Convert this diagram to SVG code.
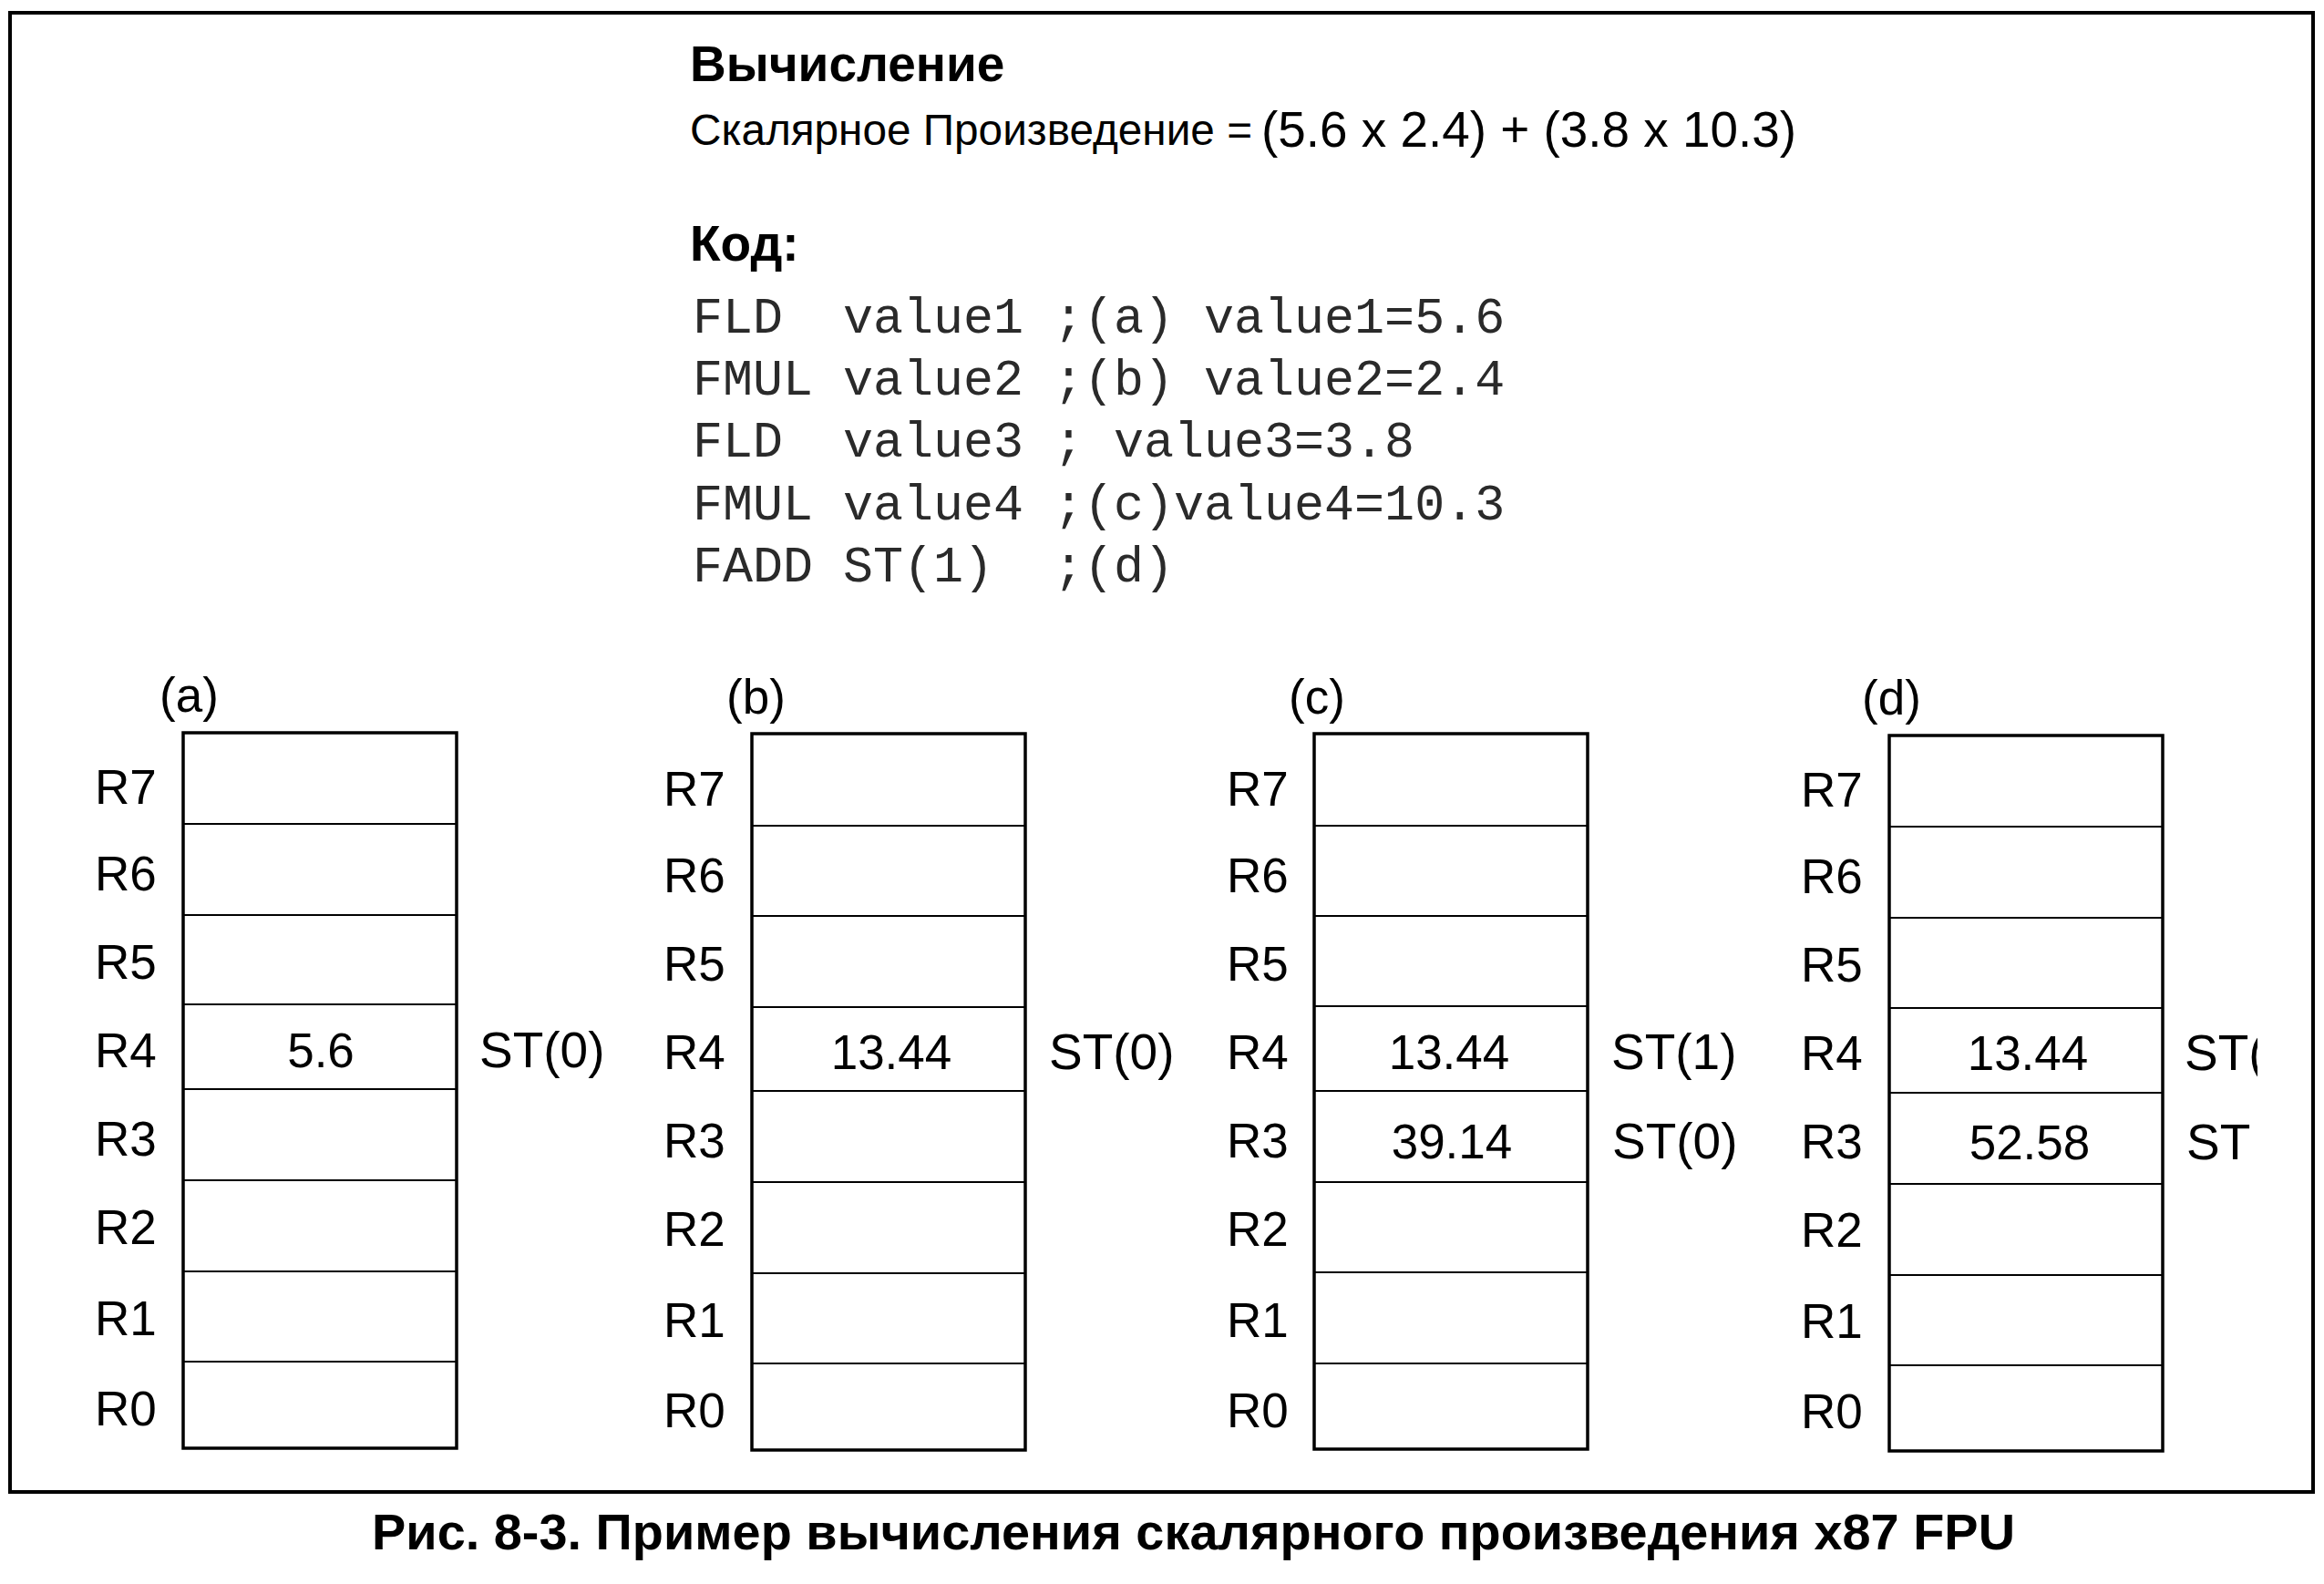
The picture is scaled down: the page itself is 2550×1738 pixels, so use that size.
<svg xmlns="http://www.w3.org/2000/svg" width="2550" height="1738" viewBox="0 0 2550 1738">
<defs>
<style>
.t{font-family:"Liberation Sans",Arial,sans-serif;fill:#000}
.h{font-family:"Liberation Sans",Arial,sans-serif;font-weight:bold;font-size:55px;fill:#000}
.c{font-family:"Liberation Mono","Courier New",monospace;font-size:55px;fill:#2a2a2a;white-space:pre}
.r{font-family:"Liberation Sans",Arial,sans-serif;font-size:53px;fill:#000}
.s{font-family:"Liberation Sans",Arial,sans-serif;font-size:55px;fill:#000}
.v{font-family:"Liberation Sans",Arial,sans-serif;font-size:53px;fill:#000;text-anchor:middle}
.box{fill:none;stroke:#000;stroke-width:3.5}
.row{stroke:#000;stroke-width:2.2}
</style>
<clipPath id="clipd"><rect x="0" y="0" width="2477" height="1738"/></clipPath>
</defs>
<rect x="0" y="0" width="2550" height="1738" fill="#fff"/>
<rect x="11" y="14" width="2527" height="1623" fill="none" stroke="#000" stroke-width="4"/>

<g id="header">
<text class="h" x="757" y="89">Вычисление</text>
<text class="t" x="757" y="159" font-size="48" textLength="617" lengthAdjust="spacingAndGlyphs">Скалярное Произведение =</text>
<text class="t" x="1384" y="161" font-size="55" textLength="587" lengthAdjust="spacingAndGlyphs">(5.6 x 2.4) + (3.8 x 10.3)</text>
<text class="h" x="757" y="286">Код:</text>
</g>

<g id="code">
<text class="c" xml:space="preserve" x="760" y="365">FLD  value1 ;(a) value1=5.6</text>
<text class="c" xml:space="preserve" x="760" y="433">FMUL value2 ;(b) value2=2.4</text>
<text class="c" xml:space="preserve" x="760" y="501">FLD  value3 ; value3=3.8</text>
<text class="c" xml:space="preserve" x="760" y="570">FMUL value4 ;(c)value4=10.3</text>
<text class="c" xml:space="preserve" x="760" y="638">FADD ST(1)  ;(d)</text>
</g>

<g id="connectors"></g>

<g id="stack-a">
<text class="r" x="175" y="781">(a)</text>
<rect class="box" x="201" y="804" width="300" height="785"/>
<line class="row" x1="201" x2="501" y1="904" y2="904"/>
<line class="row" x1="201" x2="501" y1="1004" y2="1004"/>
<line class="row" x1="201" x2="501" y1="1102" y2="1102"/>
<line class="row" x1="201" x2="501" y1="1195" y2="1195"/>
<line class="row" x1="201" x2="501" y1="1295" y2="1295"/>
<line class="row" x1="201" x2="501" y1="1395" y2="1395"/>
<line class="row" x1="201" x2="501" y1="1494" y2="1494"/>
<text class="r" x="104" y="882">R7</text>
<text class="r" x="104" y="977">R6</text>
<text class="r" x="104" y="1074">R5</text>
<text class="r" x="104" y="1171">R4</text>
<text class="r" x="104" y="1268">R3</text>
<text class="r" x="104" y="1365">R2</text>
<text class="r" x="104" y="1465">R1</text>
<text class="r" x="104" y="1564">R0</text>
<text class="v" x="352" y="1171">5.6</text>
<text class="s" x="526" y="1171">ST(0)</text>
</g>

<g id="stack-b">
<text class="r" x="797" y="783">(b)</text>
<rect class="box" x="825" y="805" width="300" height="786"/>
<line class="row" x1="825" x2="1125" y1="906" y2="906"/>
<line class="row" x1="825" x2="1125" y1="1005" y2="1005"/>
<line class="row" x1="825" x2="1125" y1="1105" y2="1105"/>
<line class="row" x1="825" x2="1125" y1="1197" y2="1197"/>
<line class="row" x1="825" x2="1125" y1="1297" y2="1297"/>
<line class="row" x1="825" x2="1125" y1="1397" y2="1397"/>
<line class="row" x1="825" x2="1125" y1="1496" y2="1496"/>
<text class="r" x="728" y="884">R7</text>
<text class="r" x="728" y="979">R6</text>
<text class="r" x="728" y="1076">R5</text>
<text class="r" x="728" y="1173">R4</text>
<text class="r" x="728" y="1270">R3</text>
<text class="r" x="728" y="1367">R2</text>
<text class="r" x="728" y="1467">R1</text>
<text class="r" x="728" y="1566">R0</text>
<text class="v" x="978" y="1173">13.44</text>
<text class="s" x="1151" y="1173">ST(0)</text>
</g>

<g id="stack-c">
<text class="r" x="1414" y="783">(c)</text>
<rect class="box" x="1442" y="805" width="300" height="785"/>
<line class="row" x1="1442" x2="1742" y1="906" y2="906"/>
<line class="row" x1="1442" x2="1742" y1="1005" y2="1005"/>
<line class="row" x1="1442" x2="1742" y1="1104" y2="1104"/>
<line class="row" x1="1442" x2="1742" y1="1197" y2="1197"/>
<line class="row" x1="1442" x2="1742" y1="1297" y2="1297"/>
<line class="row" x1="1442" x2="1742" y1="1396" y2="1396"/>
<line class="row" x1="1442" x2="1742" y1="1496" y2="1496"/>
<text class="r" x="1346" y="884">R7</text>
<text class="r" x="1346" y="979">R6</text>
<text class="r" x="1346" y="1076">R5</text>
<text class="r" x="1346" y="1173">R4</text>
<text class="r" x="1346" y="1270">R3</text>
<text class="r" x="1346" y="1367">R2</text>
<text class="r" x="1346" y="1467">R1</text>
<text class="r" x="1346" y="1566">R0</text>
<text class="v" x="1590" y="1173">13.44</text>
<text class="v" x="1593" y="1271">39.14</text>
<text class="s" x="1768" y="1173">ST(1)</text>
<text class="s" x="1769" y="1271">ST(0)</text>
</g>

<g id="stack-d">
<text class="r" x="2043" y="784">(d)</text>
<rect class="box" x="2073" y="807" width="300" height="785"/>
<line class="row" x1="2073" x2="2373" y1="907" y2="907"/>
<line class="row" x1="2073" x2="2373" y1="1007" y2="1007"/>
<line class="row" x1="2073" x2="2373" y1="1106" y2="1106"/>
<line class="row" x1="2073" x2="2373" y1="1199" y2="1199"/>
<line class="row" x1="2073" x2="2373" y1="1299" y2="1299"/>
<line class="row" x1="2073" x2="2373" y1="1399" y2="1399"/>
<line class="row" x1="2073" x2="2373" y1="1498" y2="1498"/>
<text class="r" x="1976" y="885">R7</text>
<text class="r" x="1976" y="980">R6</text>
<text class="r" x="1976" y="1077">R5</text>
<text class="r" x="1976" y="1174">R4</text>
<text class="r" x="1976" y="1271">R3</text>
<text class="r" x="1976" y="1368">R2</text>
<text class="r" x="1976" y="1468">R1</text>
<text class="r" x="1976" y="1567">R0</text>
<text class="v" x="2225" y="1174">13.44</text>
<text class="v" x="2227" y="1272">52.58</text>
<g clip-path="url(#clipd)">
<text class="s" x="2397" y="1174">ST(</text>
<text class="s" x="2399" y="1272">ST</text>
</g>
</g>

<g id="caption">
<text class="h" x="408" y="1700" font-size="56" textLength="1803" lengthAdjust="spacingAndGlyphs">Рис. 8-3. Пример вычисления скалярного произведения x87 FPU</text>
</g>
</svg>
